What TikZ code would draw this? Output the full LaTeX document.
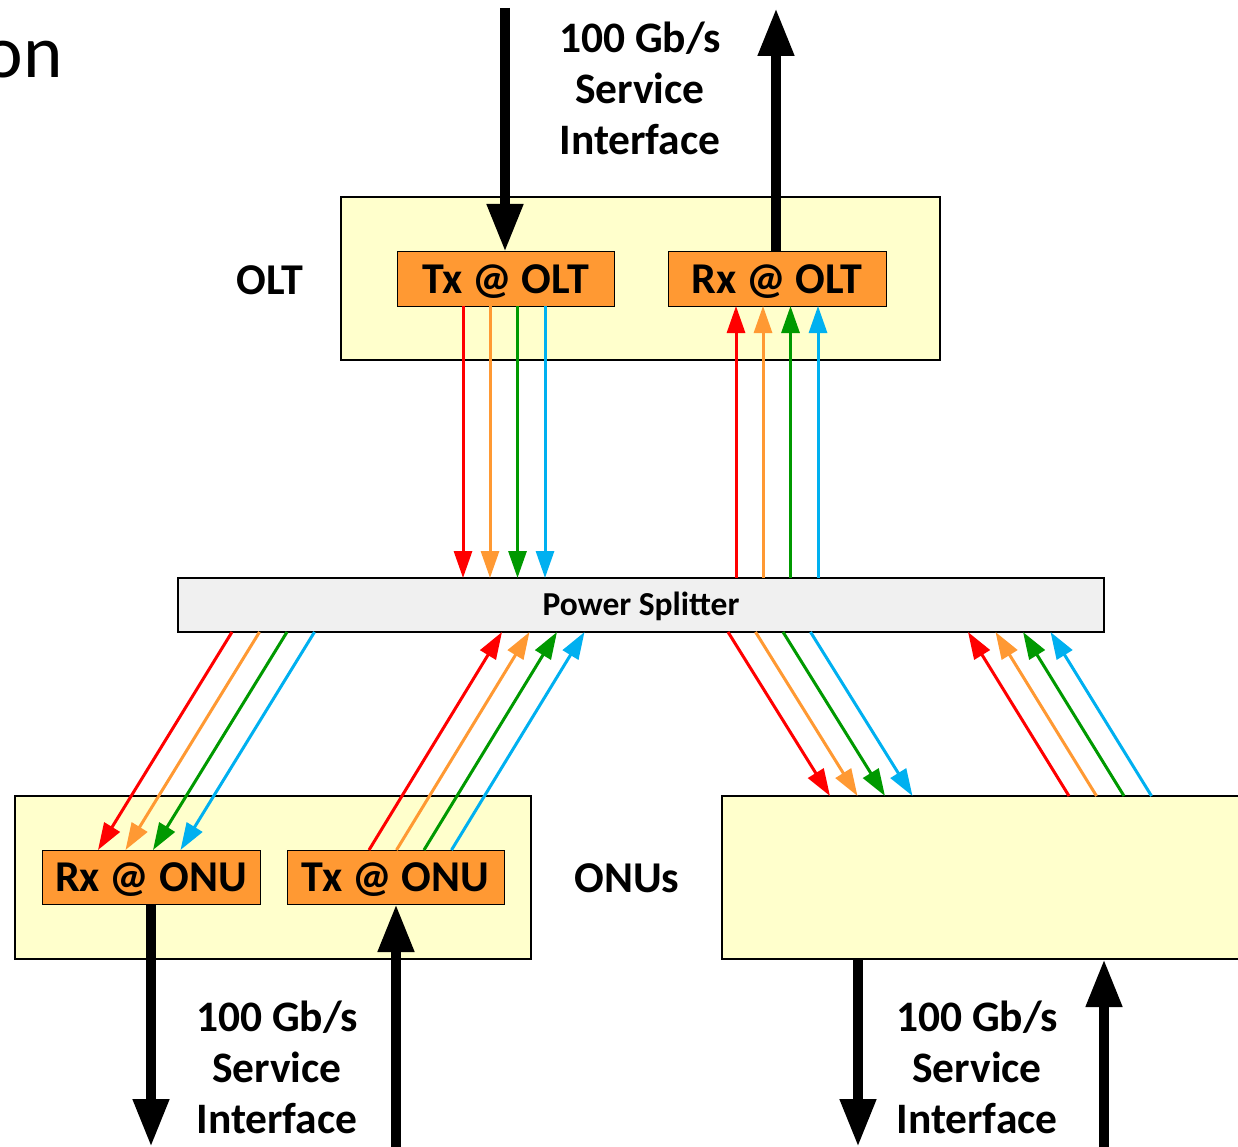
\documentclass[tikz,border=0pt]{standalone}
\usepackage{fontspec}
\setmainfont{Carlito}
\usetikzlibrary{arrows.meta,calc}
\definecolor{cRed}{HTML}{FF0000}
\definecolor{cOrange}{HTML}{FF9933}
\definecolor{cGreen}{HTML}{009900}
\definecolor{cBlue}{HTML}{00B0F0}
\definecolor{boxYellow}{HTML}{FFFFCC}
\definecolor{boxOrange}{HTML}{FF9933}
\definecolor{splitGray}{HTML}{F0F0F0}
\tikzset{
  bigbox/.style={draw=black, line width=1.3pt, fill=boxYellow, rectangle, inner sep=0pt, outer sep=0pt},
  unitbox/.style={draw=black, line width=1pt, fill=boxOrange, rectangle, inner sep=0pt, outer sep=0pt,
    minimum width=218pt, minimum height=54pt, text height=34pt, text depth=5.6pt,
    font=\bfseries\fontsize{44}{52}\selectfont},
  splitbox/.style={draw=black, line width=1.3pt, fill=splitGray, rectangle, inner sep=0pt, outer sep=0pt,
    minimum width=926pt, minimum height=54pt, text height=26pt, text depth=4.4pt,
    font=\bfseries\fontsize{33.5}{40}\selectfont},
  lbl/.style={font=\bfseries\fontsize{44}{52}\selectfont, inner sep=0pt},
  svc/.style={font=\bfseries\fontsize{43.5}{51}\selectfont, align=center, inner sep=0pt},
  carrow/.style={line width=3pt, -{Triangle[length=27pt,width=18pt]}},
  thick arrow/.style={line width=10.5pt, -{Triangle[length=48pt,width=34pt]}},
}
\begin{document}
\begin{tikzpicture}[x=1pt,y=-1pt]
\useasboundingbox (0,0) rectangle (1238,1147);
\clip (0,0) rectangle (1238,1147);
% title fragment
\node[font=\fontsize{75}{90}\selectfont, anchor=base east, inner sep=0pt] (title) at (63,78) {on};
% OLT
\node[bigbox, minimum width=599pt, minimum height=163pt] (OLT) at (640.5,278.5) {};
\node[unitbox, minimum width=217pt] (TxOLT) at (505.5,279) {Tx @ OLT};
\node[unitbox] (RxOLT) at (777,279) {Rx @ OLT};
\node[lbl] (OLTlbl) at (270,280) {OLT};
% splitter
\node[splitbox] (Split) at (641,605) {Power Splitter};
% ONUs
\node[bigbox, minimum width=516pt, minimum height=163pt] (ONU1) at (273,877.5) {};
\node[unitbox] (RxONU) at (151,877) {Rx @ ONU};
\node[unitbox, minimum width=217pt] (TxONU) at (395.5,877) {Tx @ ONU};
\node[bigbox, minimum width=530pt, minimum height=163pt] (ONU2) at (987,877.5) {};
\node[lbl] (ONUlbl) at (627,878) {ONUs};
% service labels
\node[svc] (svcTop) at (640,88) {100 Gb/s\\Service\\Interface};
\node[svc] (svcL) at (277,1067) {100 Gb/s\\Service\\Interface};
\node[svc] (svcR) at (977,1067) {100 Gb/s\\Service\\Interface};
% free ends of thick arrows
\coordinate (inTop) at (505,8);
\coordinate (outTop) at (776,8);
\coordinate (outL) at (151,1147);
\coordinate (inL) at (396,1147);
\coordinate (outR) at (858,1147);
\coordinate (inR) at (1104,1147);
\draw[thick arrow] (inTop) -- (TxOLT.north -| inTop);
\draw[thick arrow] (RxOLT.north -| outTop) -- (outTop);
\draw[thick arrow] (RxONU.south -| outL) -- (outL);
\draw[thick arrow] (inL) -- (TxONU.south -| inL);
\draw[thick arrow] (ONU2.south -| outR) -- (outR);
\draw[thick arrow] (inR) -- (ONU2.south -| inR);
% OLT downstream
\foreach \x/\c in {463/cRed,490/cOrange,517.5/cGreen,545/cBlue}
  \draw[carrow,\c] (TxOLT.south -| \x,0) -- (Split.north -| \x,0);
% OLT upstream
\foreach \x/\c in {736/cRed,763/cOrange,790.5/cGreen,818/cBlue}
  \draw[carrow,\c] (Split.north -| \x,0) -- (RxOLT.south -| \x,0);
% left ONU receive
\foreach \a/\b/\c in {232/98/cRed,259.5/125.5/cOrange,287/153/cGreen,314.5/180.5/cBlue}
  \draw[carrow,\c] (Split.south -| \a,0) -- (RxONU.north -| \b,0);
% left ONU transmit
\foreach \a/\b/\c in {369/502/cRed,396.5/529.5/cOrange,424/557/cGreen,451.5/584.5/cBlue}
  \draw[carrow,\c] (TxONU.north -| \a,0) -- (Split.south -| \b,0);
% right ONU receive
\foreach \a/\b/\c in {728/830/cRed,755.5/857.5/cOrange,783/885/cGreen,810.5/912.5/cBlue}
  \draw[carrow,\c] (Split.south -| \a,0) -- (ONU2.north -| \b,0);
% right ONU transmit
\foreach \a/\b/\c in {1069/968/cRed,1096.5/995.5/cOrange,1124/1023/cGreen,1151.5/1050.5/cBlue}
  \draw[carrow,\c] (ONU2.north -| \a,0) -- (Split.south -| \b,0);
\end{tikzpicture}
\end{document}
